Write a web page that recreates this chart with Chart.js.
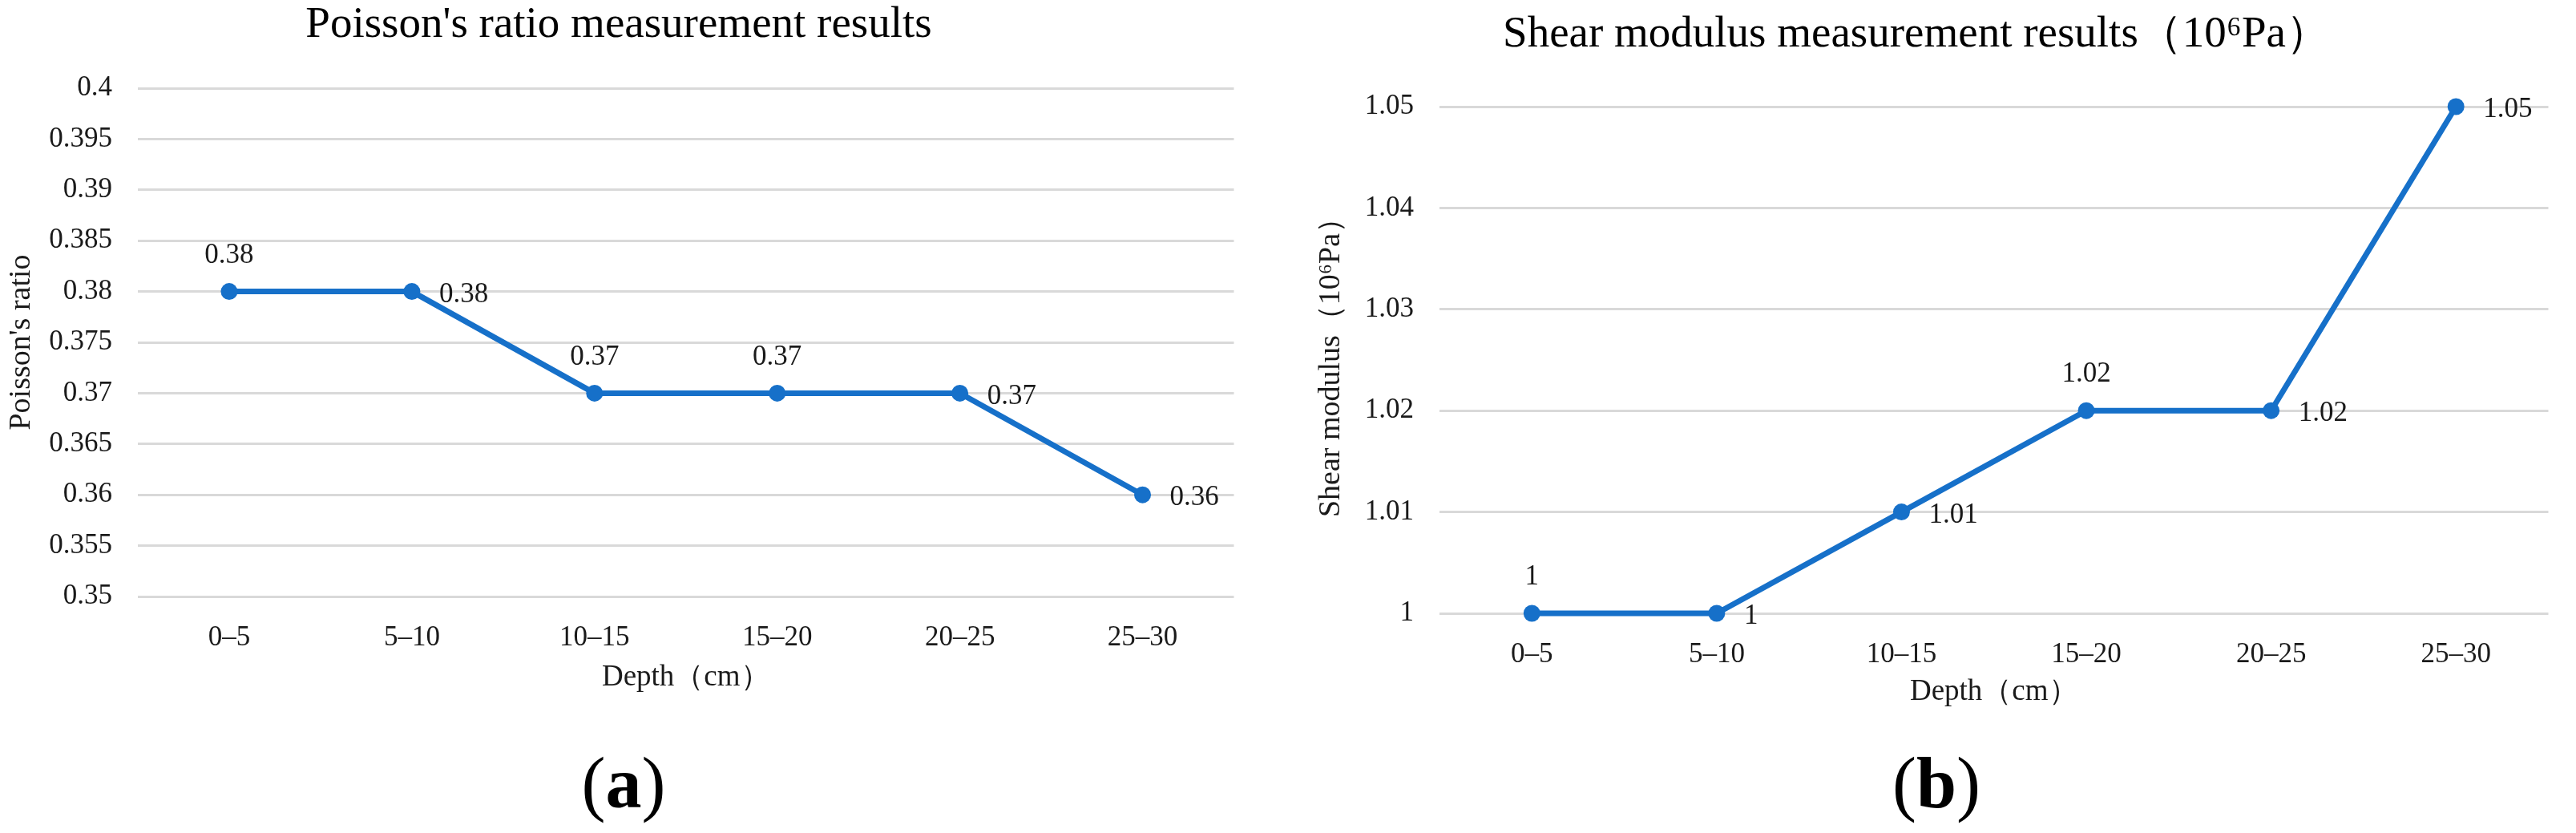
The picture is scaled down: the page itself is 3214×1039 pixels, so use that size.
<!DOCTYPE html>
<html>
<head>
<meta charset="utf-8">
<script src="https://cdn.jsdelivr.net/npm/chart.js@4.4.1/dist/chart.umd.min.js"></script>
<style>
html, body { margin: 0; padding: 0; background: #fff; }
body { width: 3214px; height: 1039px; position: relative; overflow: hidden; font-family: 'Liberation Serif', 'Times New Roman', serif; }
.panel { position: absolute; top: 0; }
.cap { position: absolute; top: 932px; width: 300px; margin-left: -150px; text-align: center; font-size: 90px; line-height: 90px; color: #000; }
</style>
</head>
<body>
<div class="panel" style="left:0;width:1550px;height:900px"><canvas id="poisson"></canvas></div>
<div class="panel" style="left:1592px;width:1598px;height:920px"><canvas id="shear"></canvas></div>
<div class="cap" style="left:778px">(<b>a</b>)</div>
<div class="cap" style="left:2416px">(<b>b</b>)</div>
<script>
// data
var depths = ['0–5', '5–10', '10–15', '15–20', '20–25', '25–30'];
var poissonRatio = [0.38, 0.38, 0.37, 0.37, 0.37, 0.36];
var shearModulus = [1, 1, 1.01, 1.02, 1.02, 1.05];
var poissonTicks = [0.35, 0.355, 0.36, 0.365, 0.37, 0.375, 0.38, 0.385, 0.39, 0.395, 0.4];
var shearTicks = [1, 1.01, 1.02, 1.03, 1.04, 1.05];

// where each value label sits next to its point
var poissonLabelPos = ['top', 'right', 'top', 'top', 'right', 'right'];
var shearLabelPos = ['top', 'right', 'right', 'top', 'right', 'right'];

var blue = '#1670c9';
var serif = 'Liberation Serif';

// draws the value next to each marker, like Excel data labels
var pointLabels = {
  id: 'pointLabels',
  afterDatasetsDraw: function (chart, args, opts) {
    var ctx = chart.ctx;
    var meta = chart.getDatasetMeta(0);
    var vals = chart.data.datasets[0].data;
    ctx.save();
    ctx.font = '35px "' + serif + '"';
    ctx.fillStyle = '#1a1a1a';
    ctx.textBaseline = 'middle';
    meta.data.forEach(function (pt, i) {
      var txt = String(vals[i]);
      if (opts.pos[i] === 'top') {
        ctx.textAlign = 'center';
        ctx.fillText(txt, pt.x, pt.y - 45);
      } else {
        ctx.textAlign = 'left';
        ctx.fillText(txt, pt.x + 34, pt.y + 4);
      }
    });
    ctx.restore();
  }
};

// box = sizes of the axis areas so the plot lands where Excel put it
function lineChart(id, title, yTitle, values, ticks, labelPos, box) {
  return new Chart(document.getElementById(id), {
    type: 'line',
    data: {
      labels: depths,
      datasets: [{
        data: values,
        borderColor: blue,
        backgroundColor: blue,
        borderWidth: 7,
        pointRadius: 10.5,
        pointHoverRadius: 10.5,
        pointBorderWidth: 0,
        pointBackgroundColor: blue,
        tension: 0,
        clip: false
      }]
    },
    options: {
      responsive: true,
      maintainAspectRatio: false,
      animation: false,
      layout: { padding: box.pad },
      plugins: {
        legend: { display: false },
        tooltip: { enabled: false },
        title: {
          display: true,
          text: title,
          color: '#000',
          font: { family: serif, size: 55, weight: 'normal', lineHeight: 1 },
          padding: box.titlePad
        },
        pointLabels: { pos: labelPos }
      },
      scales: {
        x: {
          offset: true,
          afterFit: function (s) { s.height = box.xHeight; },
          grid: { display: false },
          border: { display: false },
          ticks: { color: '#1a1a1a', font: { family: serif, size: 35 }, padding: 23, maxRotation: 0, autoSkip: false },
          title: { display: true, text: 'Depth（cm）', color: '#1a1a1a', font: { family: serif, size: 37 }, padding: { top: 4, bottom: 4 } }
        },
        y: {
          min: ticks[0],
          max: ticks[ticks.length - 1],
          afterFit: function (s) { s.width = box.yWidth; },
          afterBuildTicks: function (axis) {
            axis.ticks = ticks.map(function (v) { return { value: v }; });
          },
          grid: { color: '#d9d9d9', lineWidth: 3, drawTicks: false },
          border: { display: false },
          ticks: {
            color: '#1a1a1a',
            font: { family: serif, size: 35 },
            padding: 32,
            callback: function (v) { return String(Number(v.toFixed(3))); }
          },
          title: { display: true, text: yTitle, color: '#1a1a1a', font: { family: serif, size: 38 }, padding: { top: box.yTitleTop, bottom: 0 } }
        }
      }
    },
    plugins: [pointLabels]
  });
}

lineChart('poisson', "Poisson's ratio measurement results", "Poisson's ratio",
  poissonRatio, poissonTicks, poissonLabelPos,
  { pad: { left: 0, right: 6, top: 0, bottom: 29 }, titlePad: { top: 4, bottom: 51 }, xHeight: 127, yWidth: 172, yTitleTop: 4 });

lineChart('shear', 'Shear modulus measurement results（10⁶Pa）', 'Shear modulus（10⁶Pa）',
  shearModulus, shearTicks, shearLabelPos,
  { pad: { left: 8, right: 8, top: 0, bottom: 31 }, titlePad: { top: 16, bottom: 62 }, xHeight: 124, yWidth: 196, yTitleTop: 38 });
</script>
</body>
</html>
